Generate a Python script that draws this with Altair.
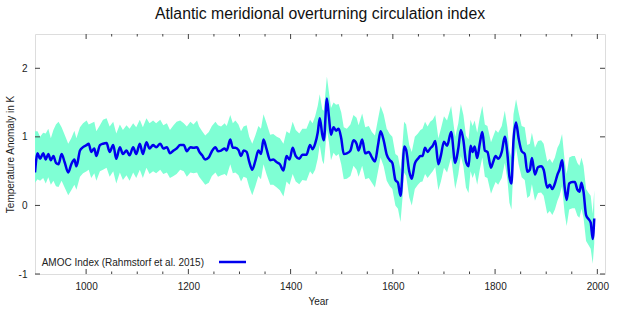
import altair as alt
import pandas as pd

FONT = "Liberation Sans"
BAND = "#7fffd4"
BLUE = "#0000ee"
FRAME = "#404040"
TXT = "#222222"

TITLE = "Atlantic meridional overturning circulation index"
X_TITLE = "Year"
Y_TITLE = "Temperature Anomaly in K"
LEGEND_LABEL = "AMOC Index (Rahmstorf et al. 2015)"

years = [900, 905, 910, 916, 921, 926, 931, 936, 941, 946, 952, 958, 965, 971, 977, 981, 988, 994,
         1001, 1005, 1010, 1016, 1020, 1027, 1033, 1040, 1046, 1053, 1059, 1066, 1072, 1079, 1085, 1092, 1098,
         1105, 1111, 1118, 1124, 1131, 1137, 1145, 1151, 1158, 1164, 1171, 1177, 1184, 1191, 1197,
         1204, 1210, 1217, 1221, 1227, 1233, 1240, 1246, 1253, 1258, 1264, 1271, 1275, 1282, 1287, 1292, 1298,
         1303, 1308, 1314, 1319, 1325, 1331, 1337, 1342, 1347, 1353, 1360, 1366, 1373, 1379, 1386, 1392, 1398,
         1404, 1410, 1417, 1423, 1431, 1438, 1443, 1448, 1453, 1457, 1462, 1465, 1471, 1475, 1479, 1484, 1489, 1494, 1499,
         1504, 1510, 1517, 1523, 1529, 1533, 1540, 1546, 1553, 1559, 1565, 1571, 1576, 1582, 1588, 1594, 1599,
         1605, 1610, 1615, 1619, 1622, 1626, 1632, 1637, 1643, 1649, 1654, 1658, 1663, 1668, 1673, 1678, 1683, 1689, 1694,
         1700, 1706, 1714, 1722, 1728, 1733, 1738, 1743, 1748, 1752, 1756, 1760, 1765, 1770, 1775, 1780, 1785, 1792, 1796,
         1801, 1806, 1813, 1819, 1824, 1828, 1832, 1836, 1841, 1846, 1852, 1858, 1863, 1868, 1872, 1878, 1884, 1890, 1895,
         1902, 1907, 1912, 1917, 1922, 1926, 1931, 1936, 1940, 1945, 1951, 1956, 1961, 1965, 1969, 1973, 1978, 1983, 1987,
         1991, 1994]

amoc = [0.48, 0.76, 0.68, 0.76, 0.67, 0.75, 0.66, 0.72, 0.62, 0.60, 0.75, 0.63, 0.48, 0.60, 0.67, 0.57, 0.80, 0.85,
        0.88, 0.90, 0.78, 0.83, 0.72, 0.88, 0.90, 0.91, 0.78, 0.88, 0.68, 0.85, 0.75, 0.80, 0.73, 0.85, 0.75,
        0.90, 0.75, 0.92, 0.83, 0.88, 0.85, 0.90, 0.83, 0.85, 0.76, 0.80, 0.83, 0.88, 0.88, 0.79,
        0.85, 0.84, 0.85, 0.79, 0.73, 0.67, 0.70, 0.79, 0.85, 0.79, 0.80, 0.83, 0.80, 0.96, 0.84, 0.84, 0.81,
        0.72, 0.80, 0.78, 0.64, 0.52, 0.65, 0.80, 0.75, 0.96, 0.82, 0.66, 0.67, 0.63, 0.60, 0.51, 0.72, 0.67,
        0.84, 0.72, 0.68, 0.74, 0.74, 0.88, 0.82, 0.90, 1.06, 1.27, 1.03, 0.95, 1.56, 1.29, 1.03, 1.14, 1.09, 1.12, 0.98,
        0.75, 0.76, 0.80, 0.95, 0.90, 0.80, 0.96, 0.76, 0.78, 0.70, 0.64, 0.88, 1.08, 0.95, 0.74, 0.66, 0.62,
        0.37, 0.33, 0.14, 0.50, 0.86, 0.81, 0.50, 0.39, 0.61, 0.68, 0.72, 0.72, 0.84, 0.78, 0.83, 0.87, 0.94, 0.60, 0.73,
        0.93, 0.87, 1.07, 0.62, 0.83, 1.10, 0.95, 0.64, 0.57, 0.87, 0.78, 0.86, 0.69, 0.90, 1.07, 0.80, 0.78, 0.55, 0.63,
        0.72, 0.68, 0.78, 1.00, 0.76, 0.42, 0.32, 0.95, 1.21, 0.98, 0.79, 0.75, 0.49, 0.52, 0.69, 0.45, 0.56, 0.57, 0.52,
        0.26, 0.30, 0.24, 0.32, 0.45, 0.52, 0.66, 0.27, 0.08, 0.32, 0.34, 0.34, 0.23, 0.20, 0.33, 0.20, -0.14, -0.20, -0.25,
        -0.49, -0.19]

upper = [1.08, 1.08, 1.00, 1.06, 1.05, 1.12, 0.98, 1.10, 1.18, 1.22, 1.14, 1.03, 0.90, 0.98, 1.09, 0.98, 1.14, 1.20,
         1.24, 1.18, 1.20, 1.22, 1.08, 1.17, 1.25, 1.27, 1.15, 1.22, 1.05, 1.18, 1.10, 1.17, 1.12, 1.20, 1.14,
         1.25, 1.14, 1.27, 1.20, 1.24, 1.20, 1.25, 1.17, 1.20, 1.10, 1.17, 1.22, 1.24, 1.20, 1.15,
         1.22, 1.18, 1.24, 1.15, 1.08, 1.02, 1.07, 1.16, 1.22, 1.17, 1.15, 1.20, 1.16, 1.32, 1.20, 1.24, 1.18,
         1.08, 1.15, 1.17, 1.00, 0.90, 1.02, 1.16, 1.12, 1.33, 1.20, 1.03, 1.04, 1.00, 0.98, 0.90, 1.08, 1.05,
         1.22, 1.10, 1.05, 1.12, 1.12, 1.25, 1.20, 1.30, 1.45, 1.62, 1.40, 1.38, 1.88, 1.65, 1.42, 1.50, 1.47, 1.48, 1.36,
         1.14, 1.12, 1.18, 1.32, 1.28, 1.17, 1.34, 1.14, 1.16, 1.07, 1.02, 1.26, 1.45, 1.33, 1.12, 1.04, 1.00,
         0.75, 0.72, 0.52, 0.90, 1.22, 1.18, 0.88, 0.78, 1.00, 1.05, 1.10, 1.12, 1.22, 1.15, 1.22, 1.25, 1.32, 0.98, 1.12,
         1.30, 1.24, 1.45, 1.00, 1.20, 1.48, 1.32, 1.02, 0.96, 1.25, 1.16, 1.24, 1.06, 1.28, 1.45, 1.18, 1.16, 0.92, 1.00,
         1.10, 1.06, 1.16, 1.38, 1.14, 0.80, 0.70, 1.33, 1.55, 1.36, 1.16, 1.14, 0.88, 0.90, 1.06, 0.84, 0.94, 0.95, 0.90,
         0.64, 0.68, 0.62, 0.70, 0.84, 0.90, 1.04, 0.66, 0.46, 0.70, 0.72, 0.72, 0.62, 0.58, 0.70, 0.58, 0.24, 0.18, 0.14,
         -0.12, 0.22]

lower = [0.33, 0.38, 0.36, 0.40, 0.32, 0.41, 0.30, 0.36, 0.28, 0.27, 0.36, 0.26, 0.15, 0.22, 0.30, 0.23, 0.42, 0.47,
         0.50, 0.52, 0.40, 0.47, 0.36, 0.50, 0.52, 0.55, 0.42, 0.50, 0.32, 0.48, 0.37, 0.44, 0.36, 0.48, 0.40,
         0.52, 0.40, 0.55, 0.46, 0.50, 0.47, 0.52, 0.46, 0.48, 0.40, 0.43, 0.46, 0.52, 0.50, 0.42,
         0.48, 0.47, 0.48, 0.42, 0.36, 0.30, 0.33, 0.43, 0.48, 0.42, 0.44, 0.46, 0.43, 0.60, 0.47, 0.48, 0.44,
         0.35, 0.42, 0.40, 0.27, 0.15, 0.28, 0.43, 0.38, 0.60, 0.45, 0.30, 0.30, 0.26, 0.22, 0.13, 0.35, 0.30,
         0.46, 0.35, 0.31, 0.37, 0.36, 0.50, 0.45, 0.52, 0.68, 0.88, 0.65, 0.60, 1.10, 0.92, 0.66, 0.77, 0.72, 0.75, 0.60,
         0.38, 0.39, 0.43, 0.58, 0.52, 0.42, 0.58, 0.38, 0.40, 0.33, 0.26, 0.50, 0.70, 0.57, 0.36, 0.28, 0.24,
         0.00, -0.05, -0.24, 0.12, 0.48, 0.43, 0.12, 0.00, 0.24, 0.30, 0.34, 0.35, 0.46, 0.40, 0.45, 0.50, 0.56, 0.22, 0.35,
         0.55, 0.48, 0.70, 0.24, 0.45, 0.72, 0.57, 0.26, 0.18, 0.50, 0.40, 0.48, 0.30, 0.52, 0.70, 0.42, 0.40, 0.17, 0.25,
         0.34, 0.30, 0.40, 0.62, 0.38, 0.04, -0.06, 0.57, 0.85, 0.60, 0.41, 0.37, 0.11, 0.14, 0.31, 0.07, 0.18, 0.19, 0.14,
         -0.12, -0.08, -0.14, -0.06, 0.07, 0.14, 0.28, -0.11, -0.30, -0.06, -0.04, -0.04, -0.15, -0.18, -0.05, -0.18, -0.52, -0.58, -0.63,
         -0.85, -0.55]

x_major = [1000, 1200, 1400, 1600, 1800, 2000]
x_minor = [1050, 1100, 1150, 1250, 1300, 1350, 1450, 1500, 1550, 1650, 1700, 1750, 1850, 1900, 1950]
y_major = [-1, 0, 1, 2]
x_domain = [900, 2015]
y_domain = [-1, 2.5]

W, H = 570, 240

df = pd.DataFrame({"year": years, "amoc": amoc, "upper": upper, "lower": lower})
xs = alt.Scale(domain=x_domain, nice=False, zero=False)
ys = alt.Scale(domain=y_domain, nice=False, zero=False)

x_axis = alt.Axis(values=x_major, format="d", ticks=False, domain=False, grid=False,
                  labelFont=FONT, labelFontSize=10, labelColor=TXT, labelPadding=7,
                  title=X_TITLE, titleFont=FONT, titleFontSize=10, titleFontWeight="normal",
                  titleColor=TXT, titleX=283, titleY=27, titleBaseline="middle")
y_axis = alt.Axis(values=y_major, labelExpr="datum.value + ''", ticks=False, domain=False, grid=False,
                  labelFont=FONT, labelFontSize=10, labelColor=TXT, labelPadding=8,
                  title=Y_TITLE, titleFont=FONT, titleFontSize=10, titleFontWeight="normal",
                  titleColor=TXT, titleX=-25, titleY=H / 2, titleBaseline="middle", titleAngle=-90)

X = lambda f: alt.X(f, scale=xs, axis=x_axis)
Y = lambda f: alt.Y(f, scale=ys, axis=y_axis)

band = alt.Chart(df).mark_area(color=BAND, opacity=1, interpolate="linear", clip=True).encode(
    x=X("year:Q"), y=Y("lower:Q"), y2="upper:Q",
)
line = alt.Chart(df).mark_line(color=BLUE, strokeWidth=2.5, interpolate="monotone", clip=True).encode(
    x=X("year:Q"), y=Y("amoc:Q"),
)

xmaj = pd.DataFrame({"v": x_major})
xmin = pd.DataFrame({"v": x_minor})
ymaj = pd.DataFrame({"v": y_major})

def xticks(d, y0, y1):
    return alt.Chart(d).mark_rule(color=FRAME, strokeWidth=1).encode(
        x=X("v:Q"), y=alt.value(y0), y2=alt.value(y1))

def yticks(d, x0, x1):
    return alt.Chart(d).mark_rule(color=FRAME, strokeWidth=1).encode(
        y=Y("v:Q"), x=alt.value(x0), x2=alt.value(x1))

ticks = [
    xticks(xmaj, H, H - 5), xticks(xmin, H, H - 2.5),
    xticks(xmaj, 0, 5), xticks(xmin, 0, 2.5),
    yticks(ymaj, 0, 5), yticks(ymaj, W, W - 5),
]

leg_text = alt.Chart(pd.DataFrame({"t": [LEGEND_LABEL]})).mark_text(
    align="right", baseline="middle", font=FONT, fontSize=10, color=TXT).encode(
    x=alt.value(169), y=alt.value(228.5), text="t:N")
leg_line = alt.Chart(pd.DataFrame({"t": [LEGEND_LABEL]})).mark_rule(color=BLUE, strokeWidth=2.5).encode(
    x=alt.value(184), x2=alt.value(211), y=alt.value(228))

chart = alt.layer(band, line, *ticks, leg_text, leg_line).properties(
    width=W, height=H,
    padding={"left": 35, "top": 34, "right": 15, "bottom": 36},
    autosize=alt.AutoSizeParams(type="none"),
    title=alt.TitleParams(TITLE, font=FONT, fontSize=15.8, fontWeight="normal", color="#111111",
                          anchor="middle", offset=11),
).configure_view(stroke=FRAME, strokeWidth=1).configure(background="white")

chart.save("out.html", embed_options={"renderer": "svg", "actions": False})
